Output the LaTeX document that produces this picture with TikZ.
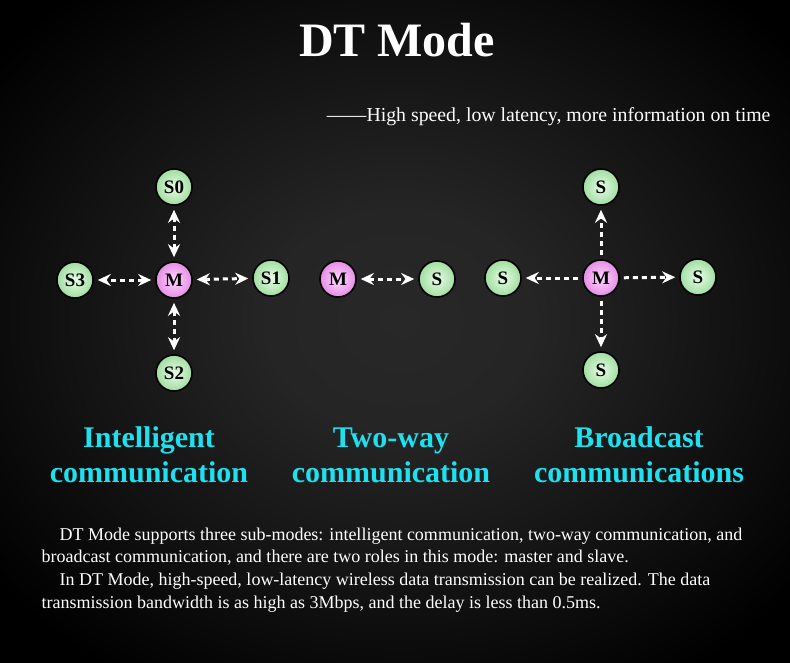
\documentclass[tikz,border=0pt]{standalone}
\usepackage{fontspec}
\setmainfont{Liberation Serif}
\usetikzlibrary{arrows.meta}
\definecolor{glowc}{RGB}{40,40,40}
\definecolor{cyanlbl}{RGB}{30,225,240}
\definecolor{gin}{RGB}{232,252,232}
\definecolor{gout}{RGB}{160,222,160}
\definecolor{pin}{RGB}{255,215,255}
\definecolor{pout}{RGB}{230,140,230}
\pgfdeclareradialshading{glow}{\pgfpoint{0bp}{0bp}}{color(0bp)=(glowc); color(6bp)=(glowc!92!black); color(15bp)=(glowc!45!black); color(23bp)=(black); color(50bp)=(black)}
\tikzset{
  slave/.style={circle, draw=black, line width=1.6pt, inner color=gin, outer color=gout, minimum size=36pt, inner sep=0pt, font=\bfseries\fontsize{19}{19}\selectfont},
  master/.style={slave, inner color=pin, outer color=pout},
  link/.style={white, line width=3pt, dash pattern=on 5pt off 4pt, shorten <=4pt, shorten >=4pt},
  both/.style={link, {Stealth[length=13pt,width=12pt]}-{Stealth[length=13pt,width=12pt]}},
  one/.style={link, -{Stealth[length=13pt,width=12pt]}},
  lbl/.style={cyanlbl, font=\bfseries\fontsize{30}{35}\selectfont, align=center},
  para/.style={white, font=\fontsize{18}{22.5}\selectfont, anchor=west}
}
\begin{document}
\begin{tikzpicture}[x=1pt,y=-1pt]
\useasboundingbox (0,0) rectangle (790,662);
\fill[black] (-10,-10) rectangle (800,672);
\begin{scope}
\clip (0,0) rectangle (790,662);
\shade[shading=glow] (400,320) ellipse (560 and 460);
\end{scope}
\node[white, font=\bfseries\fontsize{48}{48}\selectfont] (title) at (397,40) {DT Mode};
\node[white, font=\fontsize{19.8}{20}\selectfont, anchor=east] (sub) at (774,117) {——High speed, low latency, more information on time};
% Intelligent
\node[master] (m1) at (174,280) {M};
\node[slave] (a0) at (174,187) {S0};
\node[slave] (a1) at (271,278) {S1};
\node[slave] (a2) at (174,373) {S2};
\node[slave] (a3) at (75,280) {S3};
\draw[both] (m1) -- (a0);
\draw[both] (m1) -- (a1);
\draw[both] (m1) -- (a2);
\draw[both] (m1) -- (a3);
% Two-way
\node[master] (m2) at (338,279) {M};
\node[slave] (b0) at (437,279) {S};
\draw[both] (m2) -- (b0);
% Broadcast
\node[master] (m3) at (601,278) {M};
\node[slave] (c0) at (601,187) {S};
\node[slave] (c1) at (698,277) {S};
\node[slave] (c2) at (601,370) {S};
\node[slave] (c3) at (503,278) {S};
\draw[one] (m3) -- (c0);
\draw[one] (m3) -- (c1);
\draw[one] (m3) -- (c2);
\draw[one] (m3) -- (c3);
% labels
\node[lbl] (l1) at (149,455) {Intelligent\\communication};
\node[lbl] (l2) at (391,455) {Two-way\\communication};
\node[lbl] (l3) at (639,455) {Broadcast\\communications};
% paragraph
\node[para] (p1) at (56,536) {DT Mode supports three sub-modes: intelligent communication, two-way communication, and};
\node[para] (p2) at (38,558) {broadcast communication, and there are two roles in this mode: master and slave.};
\node[para] (p3) at (56,581) {In DT Mode, high-speed, low-latency wireless data transmission can be realized. The data};
\node[para] (p4) at (38,604) {transmission bandwidth is as high as 3Mbps, and the delay is less than 0.5ms.};
\end{tikzpicture}
\end{document}
